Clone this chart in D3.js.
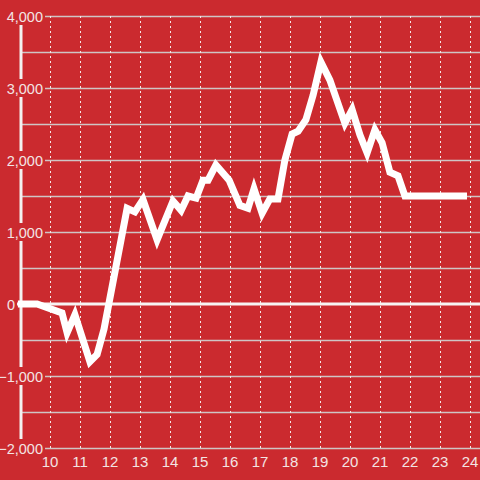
<!DOCTYPE html>
<html>
<head>
<meta charset="utf-8">
<script src="https://cdn.jsdelivr.net/npm/d3@7"></script>
<style>
  body { margin: 0; background: #cb2a2f; }
  svg { display: block; font-family: "Liberation Sans", Arial, sans-serif; }
</style>
</head>
<body>
<div id="chart"></div>
<script>
var hours = [8.93, 9.57, 10.4, 10.57, 10.83, 11.33, 11.57, 11.8, 12.57, 12.83, 13.1, 13.57, 14.1, 14.37,
  14.6, 14.87, 15.1, 15.27, 15.53, 15.97, 16.33, 16.6, 16.8, 17.07, 17.33, 17.6, 17.83, 18.07, 18.27,
  18.53, 18.77, 19.03, 19.33, 19.83, 20.07, 20.33, 20.57, 20.83, 21.07, 21.33, 21.6, 21.83, 23.9];
var values = [0, 0, -125, -400, -150, -800, -700, -350, 1330, 1280, 1450, 890, 1430, 1300,
  1500, 1470, 1720, 1720, 1930, 1720, 1370, 1330, 1600, 1260, 1460, 1460, 2000, 2360, 2400,
  2560, 2900, 3360, 3110, 2510, 2700, 2350, 2100, 2420, 2240, 1830, 1780, 1500, 1500];

var xTicks = [10, 11, 12, 13, 14, 15, 16, 17, 18, 19, 20, 21, 22, 23, 24];
var yTicks = [-2000, -1000, 0, 1000, 2000, 3000, 4000];
var yGrid = [-2000, -1500, -1000, -500, 500, 1000, 1500, 2000, 2500, 3000, 3500, 4000];

var width = 480, height = 480;
var bg = "#cb2a2f";
var textColor = "#f3e4e4";

var x = d3.scaleLinear().domain([10, 24]).range([50, 470]);
var y = d3.scaleLinear().domain([-2000, 4000]).range([448, 16]);

var svg = d3.select("#chart").append("svg")
  .attr("width", width)
  .attr("height", height);

svg.append("rect")
  .attr("width", width)
  .attr("height", height)
  .style("fill", bg);

// horizontal grid
svg.append("g").selectAll("line")
  .data(yGrid).enter()
  .append("line")
  .attr("x1", 21).attr("x2", width)
  .attr("y1", function(d) { return Math.round(y(d)) + 0.5; })
  .attr("y2", function(d) { return Math.round(y(d)) + 0.5; })
  .style("stroke", "#cfc5c5")
  .style("stroke-width", 1.3);

// vertical dotted grid
svg.append("g").selectAll("line")
  .data(xTicks).enter()
  .append("line")
  .attr("x1", function(d) { return Math.round(x(d)) + 0.5; })
  .attr("x2", function(d) { return Math.round(x(d)) + 0.5; })
  .attr("y1", 16).attr("y2", 448)
  .style("stroke", "#f4e8e8")
  .style("stroke-width", 1)
  .style("stroke-dasharray", "2,3");

// y axis line
svg.append("line")
  .attr("x1", 21).attr("x2", 21)
  .attr("y1", 16).attr("y2", 448)
  .style("stroke", "#f4f0f0")
  .style("stroke-width", 3);

// zero line
svg.append("line")
  .attr("x1", 17).attr("x2", width)
  .attr("y1", y(0)).attr("y2", y(0))
  .style("stroke", "#f7f3f3")
  .style("stroke-width", 3);

// y labels, with a background box
var fmt = d3.format(",");
var yLab = svg.append("g").selectAll("g")
  .data(yTicks).enter()
  .append("g")
  .attr("transform", function(d) { return "translate(0," + y(d) + ")"; });

yLab.append("rect")
  .attr("x", 0)
  .attr("y", -9)
  .attr("width", function(d) { return d === 0 ? 16 : 45; })
  .attr("height", 18)
  .style("fill", bg);

yLab.append("text")
  .attr("x", function(d) { return d === 0 ? 15 : 43; })
  .attr("y", 5.5)
  .style("text-anchor", "end")
  .style("font-size", "14.5px")
  .style("fill", textColor)
  .text(function(d) { return fmt(d); });

// x labels
svg.append("g").selectAll("text")
  .data(xTicks).enter()
  .append("text")
  .attr("x", function(d) { return x(d); })
  .attr("y", 467)
  .style("text-anchor", "middle")
  .style("font-size", "15px")
  .style("fill", textColor)
  .text(function(d) { return d; });

var line = d3.line()
  .x(function(d, i) { return x(hours[i]); })
  .y(function(d) { return y(d); });

svg.append("path")
  .datum(values)
  .attr("d", line)
  .style("fill", "none")
  .style("stroke", "#ffffff")
  .style("stroke-width", 7)
  .style("stroke-linejoin", "miter");
</script>
</body>
</html>
